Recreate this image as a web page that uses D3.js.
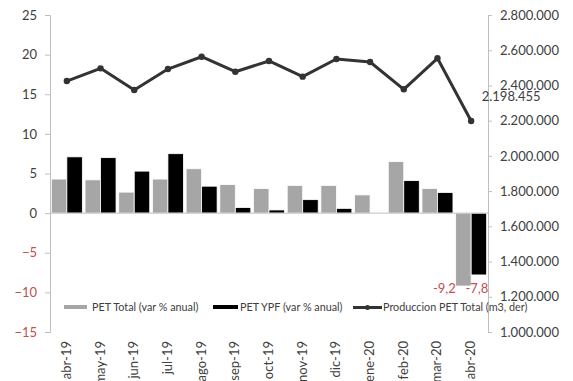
<!DOCTYPE html>
<html><head><meta charset="utf-8">
<script src="https://cdn.jsdelivr.net/npm/d3@7"></script>
<style>
body{margin:0;background:#fff;}
text{font-family:Lato,"Open Sans",sans-serif;}
</style></head>
<body><svg id="c" width="573" height="381"></svg>
<script>
const months = ["abr-19","may-19","jun-19","jul-19","ago-19","sep-19","oct-19","nov-19","dic-19","ene-20","feb-20","mar-20","abr-20"];
const petTotal = [4.3,4.2,2.65,4.3,5.6,3.6,3.1,3.5,3.5,2.3,6.5,3.1,-9.2];
const petYPF = [7.1,7.0,5.3,7.5,3.4,0.7,0.4,1.7,0.6,null,4.1,2.6,-7.8];
const production = [2425000,2497000,2374000,2493000,2563000,2478000,2539000,2450000,2550000,2533000,2378000,2554000,2198455];
const leftTicks = [25,20,15,10,5,0,-5,-10,-15];
const rightTicks = [2800000,2600000,2400000,2200000,2000000,1800000,1600000,1400000,1200000,1000000];

const svg = d3.select("#c");
const L = 50, R = 488, T = 15, B = 332;
const fmt = v => d3.format(",")(v).replace(/,/g, ".");
const fmtDec = v => String(v).replace(".", ",");

const x = d3.scaleBand().domain(months).range([L, R]).paddingInner(0.08).paddingOuter(0.04);
const xs = d3.scaleBand().domain(["t","y"]).range([0, x.bandwidth()]);
const yL = d3.scaleLinear().domain([-15, 25]).range([B, T]);
const yR = d3.scaleLinear().domain([1000000, 2800000]).range([B, T]);
const red = "#c0504d", axisCol = "#bfbfbf", txt = "#404040";

// bars
const g = svg.append("g");
months.forEach((m, i) => {
  [["t", petTotal[i], "#a6a6a6"], ["y", petYPF[i], "#000"]].forEach(([k, v, c]) => {
    if (v == null) return;
    g.append("rect")
      .attr("x", x(m) + xs(k))
      .attr("width", xs.bandwidth())
      .attr("y", yL(Math.max(0, v)))
      .attr("height", Math.abs(yL(v) - yL(0)))
      .attr("fill", c).attr("stroke", "#fff").attr("stroke-width", 0.8);
  });
});

// zero line
svg.append("line").attr("x1", L).attr("x2", R).attr("y1", yL(0)).attr("y2", yL(0))
  .attr("stroke", axisCol).attr("stroke-width", 1);

// left axis
const ax = svg.append("g").attr("transform", `translate(${L},0)`)
  .call(d3.axisLeft(yL).tickValues(leftTicks).tickSize(5).tickPadding(8));
ax.select(".domain").attr("stroke", axisCol);
ax.selectAll(".tick line").attr("stroke", axisCol);
ax.selectAll(".tick text").attr("font-size", 13).attr("fill", d => d < 0 ? red : txt)
  .style("font-family", "Lato");

// right axis
const ar = svg.append("g").attr("transform", `translate(${R},0)`)
  .call(d3.axisRight(yR).tickValues(rightTicks).tickSize(4).tickPadding(8).tickFormat(fmt));
ar.select(".domain").attr("stroke", axisCol);
ar.selectAll(".tick line").attr("stroke", axisCol);
ar.selectAll(".tick text").attr("font-size", 13).attr("fill", txt).style("font-family", "Lato");

// x labels (rotated)
months.forEach(m => {
  svg.append("text")
    .attr("transform", `translate(${x(m) + x.bandwidth()/2 + 4},341) rotate(-90)`)
    .attr("text-anchor", "end").attr("font-size", 13).attr("fill", txt).text(m);
});

// production line
const line = d3.line().x((d, i) => x(months[i]) + x.bandwidth()/2).y(d => yR(d));
svg.append("path").datum(production).attr("d", line)
  .attr("fill", "none").attr("stroke", "#333").attr("stroke-width", 3).attr("stroke-linejoin", "round");
svg.selectAll(".pt").data(production).enter().append("circle")
  .attr("cx", (d, i) => x(months[i]) + x.bandwidth()/2).attr("cy", d => yR(d)).attr("r", 3.2).attr("fill", "#333");

// data labels
const last = months.length - 1;
svg.append("text").attr("x", x(months[last]) + x.bandwidth()/2 + 40).attr("y", yR(production[last]) - 20)
  .attr("text-anchor", "middle").attr("font-size", 13).attr("fill", txt).text(fmt(production[last]));
const lblY = yL(petTotal[last]) + 7;
svg.append("text").attr("x", x(months[last]) + xs("t") + xs.bandwidth()/2 - 19).attr("y", lblY)
  .attr("text-anchor", "middle").attr("font-size", 13).attr("fill", red).text(fmtDec(petTotal[last]));
svg.append("text").attr("x", x(months[last]) + xs("y") + xs.bandwidth()/2 - 2).attr("y", lblY)
  .attr("text-anchor", "middle").attr("font-size", 13).attr("fill", red).text(fmtDec(petYPF[last]));

// legend
const lg = svg.append("g").attr("font-size", 10.8).attr("fill", txt);
lg.append("rect").attr("x", 64).attr("y", 305).attr("width", 23).attr("height", 4).attr("fill", "#a6a6a6");
lg.append("text").attr("x", 92).attr("y", 311).text("PET Total (var % anual)");
lg.append("rect").attr("x", 213).attr("y", 305).attr("width", 25).attr("height", 4).attr("fill", "#000");
lg.append("text").attr("x", 240).attr("y", 311).text("PET YPF (var % anual)");
lg.append("line").attr("x1", 353).attr("x2", 382).attr("y1", 307.5).attr("y2", 307.5).attr("stroke", "#333").attr("stroke-width", 3);
lg.append("circle").attr("cx", 367.5).attr("cy", 307.5).attr("r", 2.5).attr("fill", "#333");
lg.append("text").attr("x", 383).attr("y", 311).text("Produccion PET Total (m3, der)");
</script></body></html>
